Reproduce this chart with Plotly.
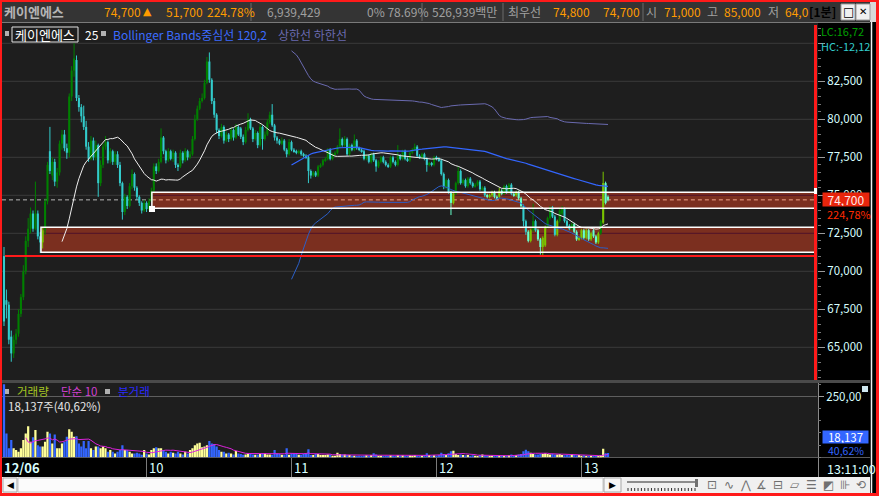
import numpy as np
import pandas as pd
import plotly.graph_objects as go

W, H = 879, 496
FONT = "Noto Sans CJK KR, Noto Sans, DejaVu Sans, sans-serif"

# ---------------- data (1-minute candles, 09:00 .. 13:10) ----------------
open_ = [
    71000, 68100, 67800, 65700, 64600, 65500, 65900, 67200, 68300, 70000,
    72000, 72800, 73800, 72800, 73800, 72300, 71900, 72700, 74600, 77900,
    76300, 77200, 75900, 76500, 78400, 79000, 78100, 77800, 81500, 83200,
    83900, 81400, 80800, 80200, 79500, 78200, 77400, 78600, 77500, 78300,
    75800, 77000, 78200, 78500, 77300, 77900, 77200, 77700, 77000, 75800,
    73900, 74900, 74300, 75600, 76400, 75500, 74900, 74500, 74000, 74500,
    74100, 74600, 75300, 76900, 76600, 77200, 78800, 77900, 77300, 77900,
    77400, 77800, 77000, 76900, 77800, 77300, 77900, 77500, 77700, 78700,
    80000, 80700, 81200, 81400, 82400, 83800, 82600, 81200, 80300, 79300,
    78900, 79500, 78600, 79000, 78700, 79300, 78800, 79500, 79400, 78850,
    78500, 79300, 80000, 79400, 78700, 79100, 78300, 79500, 78700, 79000,
    79800, 80300, 79600, 78800, 78600, 78400, 78600, 78000, 77700, 78500,
    78000, 77900, 77800, 77900, 77700, 77600, 77500, 76600, 76300, 76500,
    76300, 76900, 77000, 77300, 77400, 78000, 77400, 77700, 77800, 78200,
    78700, 78300, 78700, 77700, 78300, 78000, 78600, 78100, 78000, 77900,
    77400, 77600, 77200, 77700, 77300, 76900, 77200, 77500, 77200, 77000,
    76900, 77500, 77200, 77000, 77600, 77400, 77900, 77400, 77300, 77800,
    78000, 78200, 77600, 77500, 77700, 77400, 77000, 77100, 77000, 77500,
    77400, 77300, 76400, 75500, 76000, 75200, 74500, 75100, 75800, 76600,
    75800, 76000, 75600, 76100, 75800, 75600, 75700, 75900, 75400, 75500,
    75000, 74900, 75000, 75200, 74900, 74900, 75300, 75100, 75600, 75200,
    75700, 75100, 75000, 75200, 74800, 74300, 73300, 72600, 72000, 72700,
    73300, 72700, 72100, 71600, 71700, 72900, 73500, 74200, 73600, 72400,
    73300, 73800, 74100, 73300, 73000, 72800, 73100, 72600, 72100, 72200,
    72700, 72200, 72700, 72100, 72700, 72300, 71900, 72500, 73200, 75800,
    74900,
]
high = [
    71600, 68800, 68000, 66100, 65800, 66200, 67500, 68500, 70400, 72300,
    73500, 74200, 74000, 75900, 74000, 72600, 72900, 74800, 77200, 79500,
    77500, 77400, 76800, 78600, 79300, 79300, 78400, 81700, 83500, 85000,
    84200, 81600, 81000, 80900, 79900, 78500, 78900, 78800, 78600, 78400,
    77300, 78400, 78900, 78600, 78100, 78000, 77900, 77900, 77200, 75900,
    75100, 75000, 75800, 76700, 76500, 75600, 75000, 74600, 74700, 74600,
    74800, 75500, 77100, 77100, 77400, 79400, 78900, 78000, 78100, 78000,
    78000, 77900, 77100, 78000, 77900, 78100, 78000, 77900, 78900, 80300,
    80900, 81400, 81700, 82600, 84100, 84400, 82700, 81400, 80400, 79400,
    79700, 79600, 79200, 79100, 79500, 79400, 79700, 79600, 79500, 79000,
    79500, 80400, 80100, 79500, 79300, 79200, 79700, 79600, 79200, 80000,
    80500, 81000, 79700, 78900, 78700, 78800, 78700, 78100, 78700, 78600,
    78100, 78000, 78000, 78000, 77800, 77700, 77600, 76700, 76600, 76600,
    77000, 77100, 77400, 77500, 78100, 78100, 77800, 77900, 78300, 79400,
    78800, 78900, 78800, 78400, 78400, 79000, 78700, 78200, 78100, 78000,
    77700, 77700, 77800, 77800, 77400, 77300, 77600, 77600, 77300, 77100,
    77600, 77600, 77300, 78300, 77700, 78000, 78000, 77500, 77900, 78100,
    78400, 78300, 77700, 77800, 77800, 77500, 77200, 77200, 77600, 77600,
    77500, 77400, 76500, 76100, 76100, 75300, 75200, 75900, 76900, 76700,
    76100, 76100, 76200, 76200, 75900, 75800, 76000, 76000, 75600, 75600,
    75100, 75100, 75300, 75300, 75000, 75500, 75400, 75700, 75700, 75800,
    75800, 75200, 75300, 75300, 74900, 74400, 73400, 72700, 72800, 74450,
    73400, 72800, 72200, 72300, 73000, 73600, 74300, 74300, 73700, 73400,
    74200, 74300, 74200, 73400, 73100, 73200, 73200, 72700, 72300, 72800,
    72800, 72800, 72800, 72600, 72800, 72400, 72600, 73400, 76550, 75900,
    75000,
]
low = [
    66400, 66900, 65200, 64050, 64300, 65200, 65700, 67000, 68100, 69800,
    71600, 72500, 72600, 72700, 72100, 71200, 71500, 72400, 74400, 76400,
    76000, 75600, 75500, 76300, 78000, 77900, 77400, 77500, 81200, 82800,
    81200, 80500, 79800, 79300, 78000, 77200, 77300, 77300, 77300, 74900,
    75600, 76800, 78000, 77100, 77100, 77000, 77000, 76800, 75600, 73400,
    73700, 74100, 74200, 75400, 75300, 74700, 74300, 73800, 73900, 73900,
    74000, 74500, 75200, 76400, 76500, 77100, 77700, 77100, 77200, 77300,
    77200, 76800, 76600, 76800, 77100, 77200, 77300, 77400, 77600, 78600,
    79900, 80600, 81100, 81300, 82300, 82400, 81000, 80100, 79100, 78700,
    78800, 78400, 78500, 78500, 78600, 78600, 78700, 78900, 78700, 78300,
    78400, 79200, 79300, 78500, 78600, 78100, 78200, 78000, 78600, 78900,
    79700, 79500, 78600, 78400, 78300, 78300, 77900, 77500, 77600, 77900,
    77800, 77700, 77700, 77600, 77500, 77400, 75800, 76100, 76200, 76200,
    76200, 76800, 76900, 77200, 77300, 77300, 77300, 77600, 77700, 78100,
    78200, 78200, 77600, 77600, 77900, 77900, 78000, 77900, 77800, 77300,
    77300, 77100, 77100, 77200, 76550, 76800, 77100, 77100, 76900, 76800,
    76800, 77100, 76900, 76900, 77300, 77300, 77300, 77200, 77200, 77700,
    77900, 77500, 77400, 77400, 77300, 76550, 76900, 76900, 76900, 77300,
    77200, 76300, 75400, 75400, 75100, 73700, 74400, 75000, 75700, 75700,
    75700, 75500, 75500, 75700, 75500, 75500, 75600, 75300, 75300, 74900,
    74800, 74800, 74900, 74800, 74700, 74800, 75000, 75000, 75100, 75100,
    75000, 74900, 74900, 74700, 74200, 72950, 72400, 71900, 71900, 72600,
    72600, 72000, 71100, 71050, 71600, 72800, 73400, 73500, 72300, 72300,
    73200, 73700, 73200, 72900, 72700, 72700, 72500, 72000, 72000, 72100,
    72100, 72100, 72000, 72000, 72200, 71800, 71800, 72400, 73100, 74400,
    74600,
]
close = [
    66700, 67800, 65500, 64600, 65500, 65900, 67200, 68300, 70000, 72000,
    72800, 73800, 72800, 73800, 72300, 71900, 72700, 74600, 77000, 76600,
    77200, 75900, 76500, 78400, 79000, 78100, 77800, 81500, 83200, 84000,
    81400, 80800, 80200, 79500, 78200, 77400, 78600, 77500, 78300, 75800,
    77000, 78200, 78500, 77300, 77900, 77200, 77700, 77000, 75800, 73900,
    74900, 74300, 75600, 76400, 75500, 74900, 74500, 74000, 74500, 74100,
    74600, 75300, 76900, 76600, 77200, 78800, 77900, 77300, 77900, 77400,
    77800, 77000, 76900, 77800, 77300, 77900, 77500, 77700, 78700, 80000,
    80700, 81200, 81400, 82400, 83800, 82600, 81200, 80300, 79300, 78900,
    79500, 78600, 79000, 78700, 79300, 78800, 79500, 79000, 78850, 78500,
    79300, 80000, 79400, 78700, 79100, 78300, 79500, 78700, 79000, 79800,
    80300, 79600, 78800, 78600, 78400, 78600, 78000, 77700, 78500, 78000,
    77900, 77800, 77900, 77700, 77600, 77500, 76600, 76300, 76500, 76300,
    76900, 77000, 77300, 77400, 78000, 77400, 77700, 77800, 78200, 78700,
    78300, 78700, 77700, 78300, 78000, 78600, 78100, 78000, 77900, 77400,
    77600, 77200, 77700, 77300, 76900, 77200, 77500, 77200, 77000, 76900,
    77500, 77200, 77000, 77600, 77400, 77900, 77400, 77300, 77800, 78000,
    78200, 77600, 77500, 77700, 77400, 77000, 77100, 77000, 77500, 77400,
    77300, 76400, 75600, 76000, 75200, 74500, 75100, 75800, 76600, 75800,
    76000, 75600, 76100, 75800, 75600, 75700, 75900, 75400, 75500, 75000,
    74900, 75000, 75200, 74900, 74800, 75300, 75100, 75600, 75200, 75700,
    75100, 75000, 75200, 74800, 74300, 73300, 72600, 72000, 72700, 73300,
    72700, 72100, 71600, 72200, 72900, 73500, 74200, 73600, 72400, 73300,
    74000, 74100, 73300, 73000, 72800, 73100, 72600, 72100, 72200, 72700,
    72200, 72700, 72100, 72500, 72300, 71900, 72500, 73300, 75800, 74500,
    74700,
]
volume = [
    300000, 98000, 37000, 71000, 37000, 30000, 23000, 37000, 71000, 98000,
    128000, 64000, 82000, 112000, 50000, 44000, 44000, 64000, 105000, 98000,
    57000, 94000, 37000, 37000, 57000, 64000, 85000, 115000, 105000, 85000,
    87000, 57000, 44000, 67000, 37000, 67000, 37000, 30000, 44000, 44000,
    37000, 44000, 37000, 23000, 30000, 23000, 16000, 23000, 30000, 50000,
    30000, 30000, 23000, 16000, 16000, 19000, 16000, 10000, 30000, 16000,
    12000, 30000, 37000, 41000, 37000, 37000, 30000, 23000, 16000, 23000,
    19000, 16000, 23000, 16000, 12000, 23000, 16000, 30000, 37000, 50000,
    57000, 60000, 41000, 44000, 50000, 67000, 57000, 55000, 44000, 30000,
    23000, 23000, 16000, 19000, 16000, 12000, 26000, 16000, 14000, 10000,
    12000, 16000, 16000, 12000, 10000, 12000, 14000, 16000, 16000, 12000,
    12000, 10000, 30000, 16000, 14000, 10000, 10000, 37000, 10000, 16000,
    16000, 14000, 10000, 10000, 16000, 16000, 33000, 9600, 9600, 13700,
    13700, 9600, 9600, 9600, 11000, 11000, 6800, 6800, 19000, 13700,
    11000, 11000, 9600, 9600, 6800, 6800, 5500, 6800, 5500, 6800,
    8000, 6800, 9600, 16400, 12000, 6800, 6800, 5500, 6800, 5500,
    8000, 6800, 5500, 9600, 6800, 8000, 5500, 6800, 8000, 6800,
    9600, 6800, 5500, 6800, 8000, 16400, 9600, 6800, 8000, 6800,
    9600, 19000, 13700, 9600, 16400, 24600, 27000, 13700, 9600, 11000,
    9600, 8000, 9600, 6800, 8000, 6800, 5500, 9600, 11000, 8000,
    6800, 5500, 6800, 8000, 5500, 6800, 5500, 6800, 5500, 8000,
    11000, 6800, 9600, 11000, 13700, 24600, 31000, 24600, 19000, 13700,
    11000, 11000, 13700, 13700, 16400, 13700, 12000, 13700, 12000, 11000,
    13700, 9600, 8000, 9600, 8000, 13700, 9600, 8000, 9600, 6800,
    8000, 5500, 5500, 6800, 5500, 6800, 6800, 8000, 35500, 16400,
    18137,
]

hour_ticks = [0, 60, 120, 180, 240]
hour_labels = ["12/06", "10", "11", "12", "13"]
price_ticks = [65000, 67500, 70000, 72500, 75000, 77500, 80000, 82500, 85000]
price_labels = ["65,000", "67,500", "70,000", "72,500", "75,000", "77,500", "80,000", "82,500", ""]
vol_ticks = [250000]
vol_labels = ["250,00"]

last_price = 74700
day_open = 71000
zones = [
    dict(start=61.2, lo=74150, hi=75200, mid=75000),
    dict(start=15.3, lo=71250, hi=72895, mid=72500),
]

# ---------------- geometry ----------------
X0PX, X1PX = 2, 817
XMIN, XMAX = -0.83, 336.5
PMIN, PMAX = 62849, 86270
VMAX = 305500

n = len(close)
idx = list(range(n))

s = pd.Series(close, dtype=float)
ma25 = s.rolling(25).mean()
bb_mid = s.rolling(120).mean()
bb_sd = s.rolling(120).std(ddof=0)
bb_up = bb_mid + 2 * bb_sd
bb_lo = bb_mid - 2 * bb_sd
vma10 = pd.Series(volume, dtype=float).rolling(10).mean()


def in_zone(i):
    m = (open_[i] + close[i]) / 2
    return any(i >= z["start"] and z["lo"] <= m <= z["hi"] for z in zones)


COL = {
    (False, True): "#008000",   # normal up
    (False, False): "#33cccc",  # normal down
    (True, True): "#7ac400",    # in zone up
    (True, False): "#66ffcc",   # in zone down
}
ckey = [(in_zone(i), close[i] >= open_[i]) for i in idx]

fig = go.Figure()

# wicks (one line trace per colour)
for key, col in COL.items():
    wx, wy = [], []
    for i in idx:
        if ckey[i] == key:
            wx += [i, i, None]
            wy += [low[i], high[i], None]
    if wx:
        fig.add_trace(go.Scatter(x=wx, y=wy, mode="lines", line=dict(color=col, width=1),
                                 xaxis="x", yaxis="y", hoverinfo="skip"))

# bodies
body_base = [min(o, c) for o, c in zip(open_, close)]
body_len = [max(abs(c - o), 70) for o, c in zip(open_, close)]
fig.add_trace(go.Bar(x=idx, y=body_len, base=body_base, width=0.86,
                     marker=dict(color=[COL[k] for k in ckey], line=dict(width=0)),
                     xaxis="x", yaxis="y", hoverinfo="skip"))

fig.add_trace(go.Scatter(x=idx, y=ma25, mode="lines", line=dict(color="#eeeeee", width=1), xaxis="x", yaxis="y"))
fig.add_trace(go.Scatter(x=idx, y=bb_up, mode="lines", line=dict(color="#6a6ab0", width=1), xaxis="x", yaxis="y"))
fig.add_trace(go.Scatter(x=idx, y=bb_lo, mode="lines", line=dict(color="#2b5fc8", width=1), xaxis="x", yaxis="y"))
fig.add_trace(go.Scatter(x=idx, y=bb_mid, mode="lines", line=dict(color="#3366ff", width=1.2), xaxis="x", yaxis="y"))

vcolors = ["#ffff99" if c >= o else "#3366ff" for o, c in zip(open_, close)]
fig.add_trace(go.Bar(x=idx, y=volume, marker=dict(color=vcolors, line=dict(width=0)), width=0.92,
                     xaxis="x2", yaxis="y2", hoverinfo="skip"))
fig.add_trace(go.Scatter(x=idx, y=vma10, mode="lines", line=dict(color="#dd22dd", width=1), xaxis="x2", yaxis="y2"))

shapes = []
annotations = []


def px(x):
    return x / W


def py(y):
    return 1 - y / H


def rect(x0, y0, x1, y1, fill, line=None, lw=0, layer="below"):
    shapes.append(dict(type="rect", xref="paper", yref="paper", x0=px(x0), x1=px(x1), y0=py(y1), y1=py(y0),
                       fillcolor=fill, line=dict(color=line or fill, width=lw), layer=layer))


def pline(x0, y0, x1, y1, color, lw=1, layer="below", dash=None):
    shapes.append(dict(type="line", xref="paper", yref="paper", x0=px(x0), x1=px(x1), y0=py(y0), y1=py(y1),
                       line=dict(color=color, width=lw, dash=dash), layer=layer))


def text(s_, x, y, color, size=12, anchor="left", bold=False, bg=None, width=None, height=None, fam=FONT):
    d = dict(text=("<b>%s</b>" % s_) if bold else s_, x=px(x), y=py(y), xref="paper", yref="paper",
             xanchor=anchor, yanchor="middle", showarrow=False, borderpad=0,
             font=dict(family=fam, size=size, color=color))
    if bg:
        d["bgcolor"] = bg
    if width:
        d["width"] = width
    if height:
        d["height"] = height
    annotations.append(d)


# ---- backgrounds ----
rect(0, 0, W, 22, "#343434")
pline(0, 22.5, 870, 22.5, "#7a7a7a")
rect(818, 23, 870, 380, "#000000")
rect(0, 380, 870, 383, "#4a4a4a")
rect(818, 383, 870, 457, "#000000")
rect(0, 457, 870, 477, "#000000")
pline(0, 457.5, 870, 457.5, "#5a5a5a")
pline(818.5, 383, 818.5, 477, "#8a8a8a")
rect(870, 2, W, 493, "#000000")
pline(871.5, 22, 871.5, 493, "#f0f0f0", 1.5)
for xs in [251, 422, 503, 643]:
    pline(xs, 3, xs, 21, "#6a6a6a")
rect(870, 2, W, 22, "#d8d8d8")

# ---- price grid lines and zones (drawn through the axes) ----
for p in price_ticks:
    shapes.append(dict(type="line", xref="x", yref="y", x0=XMIN, x1=XMAX, y0=p, y1=p,
                       line=dict(color="#3a3a3a", width=1), layer="below"))
for vt in vol_ticks:
    shapes.append(dict(type="line", xref="x2", yref="y2", x0=XMIN, x1=XMAX, y0=vt, y1=vt,
                       line=dict(color="#5e5e5e", width=1), layer="below"))
shapes.append(dict(type="line", xref="x", yref="y", x0=XMIN, x1=zones[0]["start"], y0=last_price, y1=last_price,
                   line=dict(color="#b8b8b8", width=1, dash="4px,3px"), layer="below"))
for z in zones:
    shapes.append(dict(type="rect", xref="x", yref="y", x0=z["start"], x1=XMAX, y0=z["lo"], y1=z["hi"],
                       fillcolor="#7b2f1f", line=dict(width=0), layer="below"))
    shapes.append(dict(type="line", xref="x", yref="y", x0=z["start"], x1=XMAX, y0=z["mid"], y1=z["mid"],
                       line=dict(color="#50122a", width=1), layer="below"))
shapes.append(dict(type="line", xref="x", yref="y", x0=zones[0]["start"], x1=XMAX, y0=last_price, y1=last_price,
                   line=dict(color="#f2a48c", width=1, dash="4px,3px"), layer="below"))
for z in zones:
    shapes.append(dict(type="rect", xref="x", yref="y", x0=z["start"], x1=XMAX, y0=z["lo"], y1=z["hi"],
                       fillcolor="rgba(0,0,0,0)", line=dict(color="#ffffff", width=1.5), layer="above"))
shapes.append(dict(type="line", xref="x", yref="y", x0=0.4, x1=XMAX, y0=day_open, y1=day_open,
                   line=dict(color="#ff1a1a", width=2), layer="above"))
shapes.append(dict(type="rect", xref="x", yref="y", x0=60.0, x1=62.5, y0=73900, y1=74300,
                   fillcolor="#ffffff", line=dict(width=0), layer="above"))

# red vertical marker line and frame
rect(814, 25, 817, 380, "#ff1a1a", layer="above")
rect(814, 188, 817, 194, "#ffffff", layer="above")
rect(0, 0, W, 2, "#ff1a1a", layer="above")
rect(0, 0, 2, H, "#ff1a1a", layer="above")
rect(0, 493, W, H, "#ff1a1a", layer="above")
rect(876, 0, W, H, "#ff1a1a", layer="above")

# ---- scrollbar / toolbar ----
rect(2, 477, 870, 493, "#f0f0f0", layer="above")
rect(3, 478, 17, 492, "#f6f6f6", line="#a8a8a8", lw=1, layer="above")
rect(18, 478, 603, 492, "#fbfbfb", line="#c4c4c4", lw=1, layer="above")
rect(604, 478, 621, 492, "#f6f6f6", line="#a8a8a8", lw=1, layer="above")
text("◀", 10, 485, "#000000", 9, anchor="center", fam="DejaVu Sans")
text("▶", 612.5, 485, "#000000", 9, anchor="center", fam="DejaVu Sans")
pline(627, 482, 695, 482, "#8c8c8c", 2, layer="above")
rect(695, 479, 698, 487, "#707070", layer="above")
for k in range(21):
    xx = 628 + k * 3.35
    pline(xx, 488, xx, 491, "#303030", 1, layer="above")
icons = ["⊡", "∿", "⋀", "∡", "⊟", "▱", "☰", "◩", "⊪", "⟲"]
for k, ic in enumerate(icons):
    text(ic, 712 + k * 16.6, 485, "#707070", 12, anchor="center", fam="DejaVu Sans")

# ---- header texts ----
OR = "#ff9c00"
GR = "#a0a0a0"
text("케이엔에스", 3, 12, "#b4b4b4", 13, bold=True)
text("74,700", 103, 12, OR, 12)
text("▲", 147, 12, OR, 11, anchor="center", fam="DejaVu Sans")
text("51,700", 165, 12, OR, 12)
text("224.78%", 206, 12, OR, 12)
text("6,939,429", 266, 12, GR, 12)
text("0% 78.69%", 366, 12, GR, 12)
text("526,939백만", 431, 12, GR, 12)
text("최우선", 507, 12, GR, 12)
text("74,800", 552, 12, OR, 12)
text("74,700", 602, 12, OR, 12)
text("시", 645, 12, GR, 12)
text("71,000", 663, 12, OR, 12)
text("고", 706, 12, GR, 12)
text("85,000", 723, 12, OR, 12)
text("저", 767, 12, GR, 12)
text("64,0", 784, 12, OR, 12)
text("[1분]", 808, 12, "#000000", 12, bold=True)
rect(841, 4, 855, 20, "#f0f0f0", line="#9a9a9a", lw=1, layer="above")
rect(856, 4, 870, 20, "#f0f0f0", line="#9a9a9a", lw=1, layer="above")
text("□", 848, 12, "#000000", 12, anchor="center", fam="DejaVu Sans")
text("✕", 863, 12, "#000000", 10, anchor="center", fam="DejaVu Sans")

# ---- legend rows ----
rect(5, 31, 9, 36, "#b0b0b0", layer="above")
rect(12, 27, 78, 42, "rgba(0,0,0,0)", line="#e0e0e0", lw=1, layer="above")
text("케이엔에스", 14, 34.5, "#ffffff", 13)
text("25", 84, 34.5, "#ffffff", 12)
rect(101, 31, 106, 36, "#b0b0b0", layer="above")
text("Bollinger Bands중심선 120,2", 112, 34.5, "#3c6cff", 12)
text("상한선 하한선", 277, 34.5, "#6b6bb0", 12)

rect(5, 389, 9, 394, "#b0b0b0", layer="above")
text("거래량", 16, 391, "#a6c622", 11.5)
text("단순 10", 60, 391, "#d040d0", 11.5)
rect(105, 389, 110, 394, "#b0b0b0", layer="above")
text("분거래", 117, 391, "#2a2aff", 11.5)
text("18,137주(40,62%)", 7, 406, "#e4e4e4", 11.5)

# ---- right axis extras ----
text("LC:16,72", 820, 30.5, "#00a000", 11)
text("HC:-12,12", 820, 45.5, "#33cccc", 11)
text("74,700", 846, 199.5, "#ffeaea", 12, anchor="center", bg="#e8250c", width=46, height=13)
text("224,78%", 826, 214, "#ff2a00", 11)
text("18,137", 845.5, 437, "#ffffff", 11.5, anchor="center", bg="#3366ff", width=45, height=12)
text("40,62%", 827, 450, "#3366ff", 10.5)
text("13:11:00", 826, 468, "#d8ffff", 12.5)
rect(862, 386, 868, 392, "#d0e8f0", layer="above")

# ---- time labels (positioned on the time axis) ----
for t, lab in zip(hour_ticks, hour_labels):
    annotations.append(dict(text=("<b>%s</b>" % lab) if t == 0 else lab, x=t - 0.35, y=py(467),
                            xref="x2", yref="paper", xanchor="left", yanchor="middle", showarrow=False,
                            borderpad=0, font=dict(family=FONT, size=13, color="#d8ffff")))

fig.update_layout(
    width=W, height=H, margin=dict(l=0, r=0, t=0, b=0),
    paper_bgcolor="#1e1e1e", plot_bgcolor="rgba(0,0,0,0)",
    showlegend=False, hovermode=False, barmode="overlay",
    shapes=shapes, annotations=annotations,
    xaxis=dict(domain=[px(X0PX), px(X1PX)], range=[XMIN, XMAX], showgrid=False, zeroline=False,
               showticklabels=False, ticks="", showline=False, anchor="y"),
    yaxis=dict(domain=[py(380), py(24)], range=[PMIN, PMAX], side="right", anchor="x",
               tickmode="array", tickvals=price_ticks, ticktext=price_labels,
               ticks="outside", ticklen=7, tickcolor="#9a9a9a", tickwidth=1,
               showgrid=False, zeroline=False, showline=False,
               tickfont=dict(family=FONT, size=11.5, color="#d8ffff"),
               minor=dict(tickmode="linear", tick0=0, dtick=500, ticks="outside", ticklen=3,
                          tickcolor="#777777", showgrid=False)),
    xaxis2=dict(domain=[px(X0PX), px(X1PX)], range=[XMIN, XMAX], showgrid=False, zeroline=False,
                showticklabels=False, showline=False, anchor="y2",
                tickmode="array", tickvals=[t - 1 for t in hour_ticks], ticks="outside", ticklen=19,
                tickcolor="#7a7a7a", tickwidth=1),
    yaxis2=dict(domain=[py(457.3), py(383)], range=[0, VMAX], side="right", anchor="x2",
                tickmode="array", tickvals=vol_ticks, ticktext=vol_labels,
                ticks="outside", ticklen=6, tickcolor="#9a9a9a",
                showgrid=False, zeroline=False, showline=False,
                tickfont=dict(family=FONT, size=11.5, color="#d8ffff"),
                minor=dict(tickmode="linear", tick0=0, dtick=50000, ticks="outside", ticklen=3,
                           tickcolor="#777777", showgrid=False)),
)

fig.write_html("out.html", config={"displayModeBar": False},
               post_script="document.body.style.margin='0px';document.body.style.overflow='hidden';")
